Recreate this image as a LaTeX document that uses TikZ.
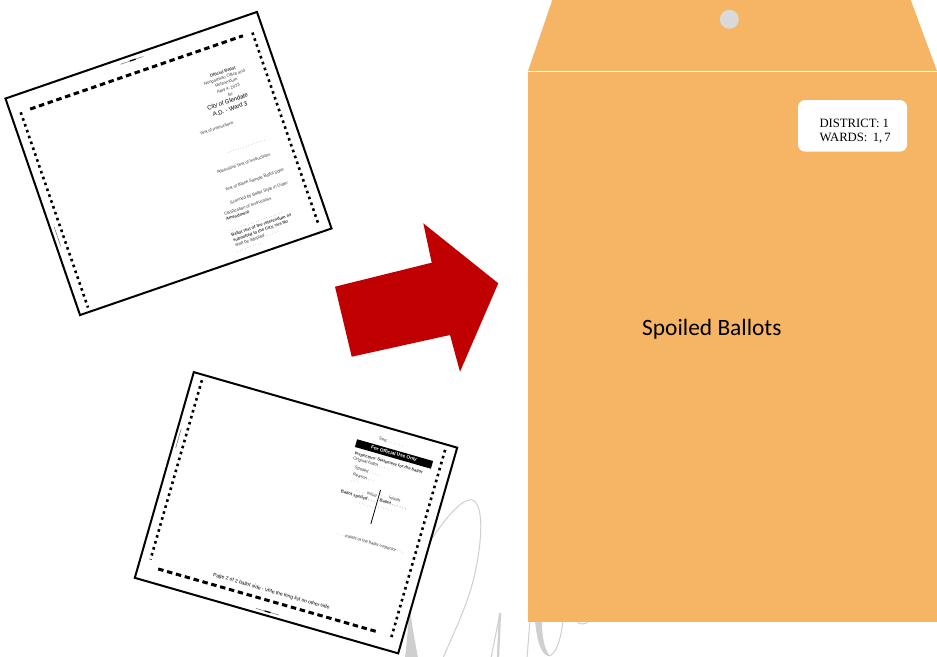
\documentclass[tikz,border=0pt]{standalone}
\usepackage{fontspec}
\newfontfamily\calibrifont{Carlito}
\newfontfamily\tnrfont{Liberation Serif}
\newfontfamily\arialfont{Liberation Sans}
\definecolor{envelope}{HTML}{F5B565}
\definecolor{arrowred}{HTML}{C00000}
\definecolor{holegray}{HTML}{D9D9D9}
\definecolor{swirlgray}{HTML}{CFCFCF}
\definecolor{inkgray}{HTML}{333333}
\tikzset{
  ballotedge/.style={draw=black, line width=2pt, fill=white},
  thickdash/.style={line width=3pt, dash pattern=on 5.5pt off 3.7pt},
  dotline/.style={line width=2.6pt, dash pattern=on 2.6pt off 3.6pt},
  swirlthin/.style={draw=swirlgray, line width=1pt},
  tinytext/.style={font=\arialfont\fontsize{4.2}{5.5}\selectfont, inner sep=0pt, align=center, text=inkgray},
  boldtiny/.style={font=\arialfont\bfseries\fontsize{4.2}{5.5}\selectfont, inner sep=0pt, align=center, text=black},
  citytext/.style={font=\arialfont\fontsize{6}{8}\selectfont, inner sep=0pt, align=center, text=black},
  timing/.style={draw=gray, line width=0.6pt},
  lbltext/.style={font=\tnrfont\fontsize{12.7}{13.3}\selectfont, inner sep=0pt, text=black},
}
\begin{document}
\begin{tikzpicture}[x=1pt,y=1pt]
\useasboundingbox (0,0) rectangle (937,-656);
\clip (0,0) rectangle (937,-656);
\fill[white] (0,0) rectangle (937,-656);

% background signature strokes
\draw[swirlthin] (420,-557) .. controls (440,-525) and (460,-498) .. (472,-500)
  .. controls (484,-503) and (482,-540) .. (476,-568)
  .. controls (470,-600) and (455,-630) .. (443,-658);
\fill[swirlgray] (409,-600) .. controls (412,-625) .. (418,-658) -- (405,-658) .. controls (408,-630) .. (409,-600) -- cycle;
\draw[swirlthin] (500,-613) -- (491,-658);
\draw[draw=swirlgray, line width=2.2pt] (500,-613) -- (498,-658);
\draw[swirlthin] (530,-620) -- (527,-658);
\fill[swirlgray] (535,-620) .. controls (537,-645) and (543,-657) .. (550,-656) .. controls (545,-650) and (542,-640) .. (542,-620) -- cycle;
\draw[swirlthin] (549,-656) .. controls (556,-654) and (561,-640) .. (563,-620);
\draw[swirlthin] (576,-621) .. controls (580,-625) and (585,-625) .. (589,-621);

% ballot 1 (front)
\begin{scope}[shift={(168.5,-163.5)}, rotate=19, transform shape]
  \draw[ballotedge] (-133,-114.5) rectangle (133,114.5);
  \draw[thickdash] (-113,96.5) -- (112,96.5);
  \draw[dotline] (-123,96.5) -- (-123,-110);
  \draw[dotline] (122,96.5) -- (122,-108);
  \draw[timing] (-13,109.4) -- (11,109.4);
  \draw[line width=1.2pt] (-3,109.4) -- (3,109.4);
  \draw[timing] (-128.8,-23) -- (-128.8,-43);
  \node[tinytext, anchor=north] (b1head) at (81,70.5) {\textbf{Official Ballot}\\Nonpartisan Office and\\Referendum\\[0.8pt]April 4, 2023\\[0.8pt]for};
  \node[citytext] (b1city) at (76,35.5) {City of Glendale\\A.D. - Ward 3};
  \node[tinytext] (b1i1) at (57,17.6) {Test of Instructions};
  \node[tinytext] (b1i2) at (79,-9.6) {. . . . . . . . . . . . . . .};
  \node[tinytext] (b1i3) at (71,-24.4) {Alternative Test of Instructions};
  \node[tinytext] (b1i4) at (76,-43.7) {Test of Blank Sample Ballot Style};
  \node[tinytext] (b1i5) at (76,-57.5) {Scanned by Ballot Style in Order};
  \node[tinytext, anchor=north west, align=left] (b1i6) at (36,-64.5) {Certification of Instructions\\\textbf{Amendment}\\[5.5pt]. . . . . . . . . . . . . . . . . . . . .\\\textbf{Ballot text of the referendum as}\\\textbf{submitted to the City, Yes No}\\shall be adopted. . . . . .\\. . . . . . . . . .};
\end{scope}

% ballot 2 (back)
\begin{scope}[shift={(296,-512.75)}, rotate=-16, transform shape]
  \draw[ballotedge] (-137,-107) rectangle (137,107);
  \draw[dotline] (-127,101.5) -- (-127,-85);
  \draw[thickdash] (-117,-92) -- (110,-92);
  \draw[dotline] (126,101.5) -- (126,-94);
  \draw[timing] (-133.5,29) -- (-133.5,49);
  \draw[timing] (-12,-103) -- (12,-103);
  \draw[line width=1.2pt] (-3,-103) -- (3,-103);
  \node[tinytext] (b2seq) at (72,94) {Seq: . . . . . .};
  \node[fill=black, text=white, minimum width=79pt, minimum height=8pt, inner sep=0pt,
        font=\arialfont\bfseries\fontsize{4.8}{5}\selectfont] (b2bar) at (78,83.5) {For Official Use Only};
  \node[tinytext, anchor=north west, align=left] (b2insp) at (40,75.5) {\textbf{Inspectors' Statement for the ballot}\\Original ballot . . . . .\\[3pt]\quad Spoiled . . . .\\[1.5pt]\quad Reason . . .\\\quad . . .};
  \draw[line width=0.8pt] (75,45) -- (75,10);
  \node[tinytext, anchor=east, align=right] (b2left) at (73,33) {. . . . Initial\\\textbf{Ballot spoiled . . .}\\. . . . . .};
  \node[tinytext, anchor=west, align=left] (b2right) at (77,35) {. . . Initials\\\textbf{Ballot . . . . . .}\\. . . . . .};
  \node[tinytext] (b2init) at (80,-8.8) {. . . Initials of the ballot inspector . . .};
  \node[font=\arialfont\fontsize{5}{5.5}\selectfont, inner sep=0pt, text=black] (b2page) at (-2,-82.6) {Page 2 of 2 ballot side - Vote the long list on other side};
\end{scope}

% red arrow
\fill[arrowred] (351.7,-356.7) -- (335,-286.7) -- (431.7,-262.7) -- (423.3,-223.3)
  -- (498.3,-283.3) -- (460,-371.7) -- (450,-335) -- cycle;

% envelope
\fill[envelope] (528,-71) -- (553,2) -- (910,2) -- (937,-71) -- cycle;
\fill[envelope] (528,-71) rectangle (937,-622);
\draw[white, line width=0.8pt] (528,-71) -- (937,-71);
\fill[holegray] (729.3,-19.3) circle (9.5);
\node[fill=white, rounded corners=7pt, minimum width=109pt, minimum height=51.5pt, inner sep=0pt] (lbl) at (852.5,-125.8) {};
\node[lbltext, anchor=base west] (district) at (819.3,-127.7) {DISTRICT: 1};
\node[lbltext, anchor=base west] (wards) at (819.3,-141) {WARDS:\, 1,\,7};
\node[font=\calibrifont\fontsize{23.4}{28}\selectfont, inner sep=0pt, anchor=base west] (title) at (642,-335) {Spoiled Ballots};
\end{tikzpicture}
\end{document}
